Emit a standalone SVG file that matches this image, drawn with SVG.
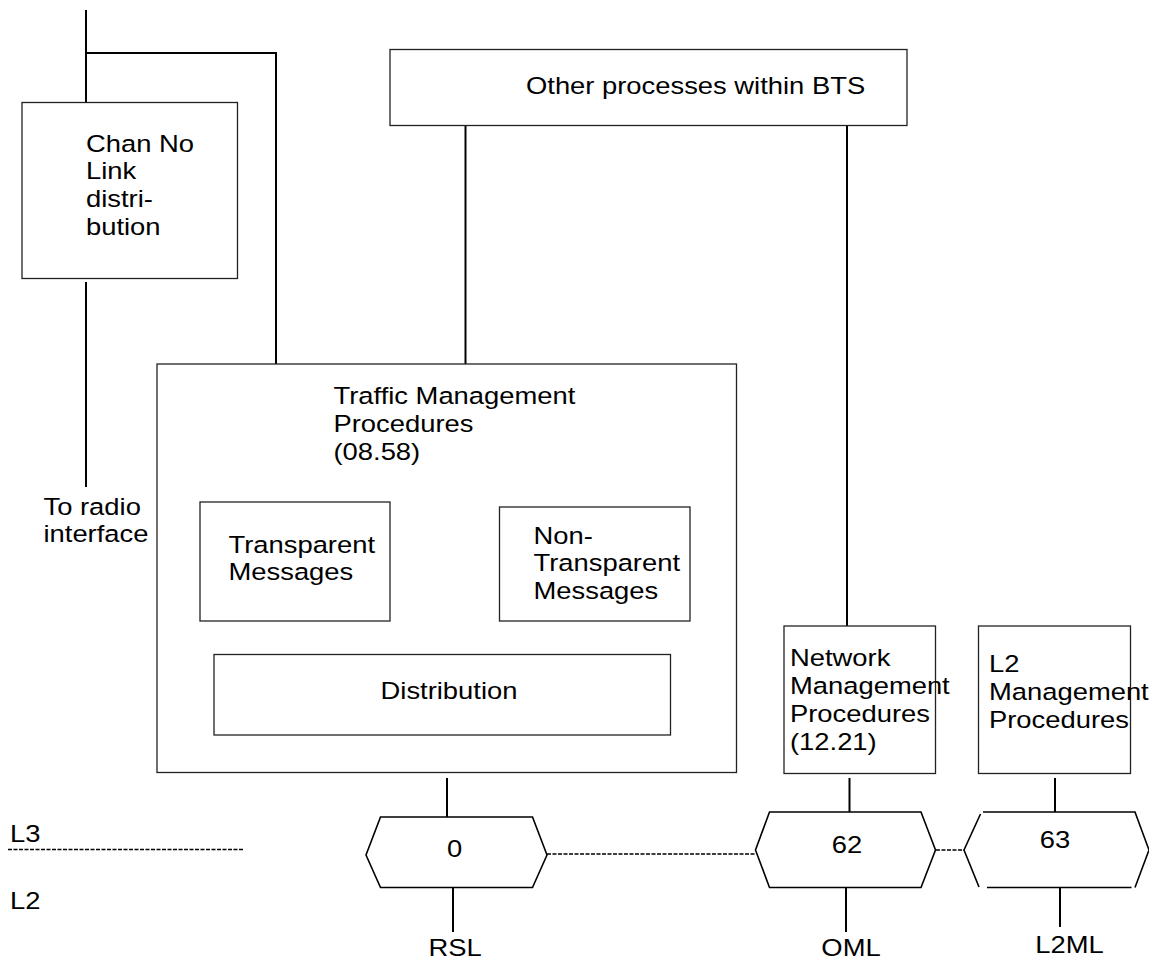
<svg xmlns="http://www.w3.org/2000/svg" width="1149" height="960" viewBox="0 0 1149 960">
<style>
.box{fill:#fff;stroke:#222;stroke-width:1.3}
.ln{fill:none;stroke:#000;stroke-width:2}
.dot{fill:none;stroke:#000;stroke-width:1.6;stroke-dasharray:4 1.5}
.hex{fill:#fff;stroke:#000;stroke-width:1.6}
.t{font-family:"Liberation Sans",Arial,sans-serif;font-size:23.5px;fill:#000}
.m{text-anchor:middle}
</style>
<rect width="1149" height="960" fill="#fff"/>
<g id="connectors">
<path class="ln" d="M86,10V107M86,53H276V364"/>
<path class="ln" d="M86,282V487"/>
<path class="ln" d="M465.5,126V364"/>
<path class="ln" d="M847,126V626"/>
<path class="ln" d="M290,621V655"/>
<path class="ln" d="M589,625V655"/>
<path class="ln" d="M447,735V773"/>
<path class="ln" d="M447,778V817"/>
<path class="ln" d="M453,888V932"/>
<path class="ln" d="M849.5,778V812"/>
<path class="ln" d="M846,888V932"/>
<path class="ln" d="M1055,778V818"/>
<path class="ln" d="M1060,888V927"/>
<path class="dot" d="M8,849.5H244"/>
<path class="dot" d="M547,854H756"/>
<path class="dot" d="M936,850H964"/>
</g>
<g id="chan-no-link">
<rect class="box" x="22" y="102.5" width="215.5" height="176"/>
<text class="t" transform="translate(86,151.5) scale(1.165,1)"><tspan x="0" y="0">Chan No</tspan><tspan x="0" y="28">Link</tspan><tspan x="0" y="56">distri-</tspan><tspan x="0" y="84">bution</tspan></text>
</g>
<g id="other-processes">
<rect class="box" x="390" y="49.5" width="517" height="76"/>
<text class="t" transform="translate(526,93.5) scale(1.165,1)">Other processes within BTS</text>
</g>
<g id="to-radio">
<text class="t" transform="translate(43.5,514.5) scale(1.165,1)"><tspan x="0" y="0">To radio</tspan><tspan x="0" y="28">interface</tspan></text>
</g>
<g id="traffic-management">
<rect class="box" x="157" y="364" width="579.5" height="408.5"/>
<text class="t" transform="translate(333.5,404.3) scale(1.165,1)"><tspan x="0" y="0">Traffic Management</tspan><tspan x="0" y="28">Procedures</tspan><tspan x="0" y="56">(08.58)</tspan></text>
</g>
<g id="transparent">
<rect class="box" x="200" y="502" width="190" height="119"/>
<text class="t" transform="translate(228.5,552.5) scale(1.165,1)"><tspan x="0" y="0">Transparent</tspan><tspan x="0" y="28">Messages</tspan></text>
</g>
<g id="non-transparent">
<rect class="box" x="499.5" y="507" width="190.5" height="114"/>
<text class="t" transform="translate(533.5,543.5) scale(1.165,1)"><tspan x="0" y="0">Non-</tspan><tspan x="0" y="28">Transparent</tspan><tspan x="0" y="56">Messages</tspan></text>
</g>
<g id="distribution">
<rect class="box" x="214" y="654.5" width="456.5" height="80.5"/>
<text class="t m" transform="translate(449,698.5) scale(1.165,1)">Distribution</text>
</g>
<g id="network-management">
<rect class="box" x="784" y="626" width="151.5" height="147.5"/>
<text class="t" transform="translate(790,665.5) scale(1.165,1)"><tspan x="0" y="0">Network</tspan><tspan x="0" y="28.3">Management</tspan><tspan x="0" y="56.6">Procedures</tspan><tspan x="0" y="84.9">(12.21)</tspan></text>
</g>
<g id="l2-management">
<rect class="box" x="978.5" y="626" width="152" height="147.5"/>
<text class="t" transform="translate(989,671.5) scale(1.165,1)"><tspan x="0" y="0">L2</tspan><tspan x="0" y="28.3">Management</tspan><tspan x="0" y="56.6">Procedures</tspan></text>
</g>
<g id="layer-labels">
<text class="t" transform="translate(10,842) scale(1.165,1)">L3</text>
<text class="t" transform="translate(10,908.5) scale(1.165,1)">L2</text>
</g>
<g id="sap-0">
<polygon class="hex" points="380.5,817 532.5,817 547,855 532.5,887.5 380.5,887.5 366,855"/>
<text class="t m" transform="translate(454.5,857) scale(1.165,1)">0</text>
<text class="t m" transform="translate(455,956) scale(1.165,1)">RSL</text>
</g>
<g id="sap-62">
<polygon class="hex" points="769.5,812 921,812 935.5,850 921,887.5 769.5,887.5 755.5,850"/>
<text class="t m" transform="translate(847,852.5) scale(1.165,1)">62</text>
<text class="t m" transform="translate(851,956) scale(1.165,1)">OML</text>
</g>
<g id="sap-63">
<path class="hex" d="M980.5,814L964,850L979,887M983,812H1135L1149,850L1135,887.5M987,887.5H1131.5"/>
<text class="t m" transform="translate(1055,847.5) scale(1.165,1)">63</text>
<text class="t m" transform="translate(1069.5,952.5) scale(1.165,1)">L2ML</text>
</g>
</svg>
